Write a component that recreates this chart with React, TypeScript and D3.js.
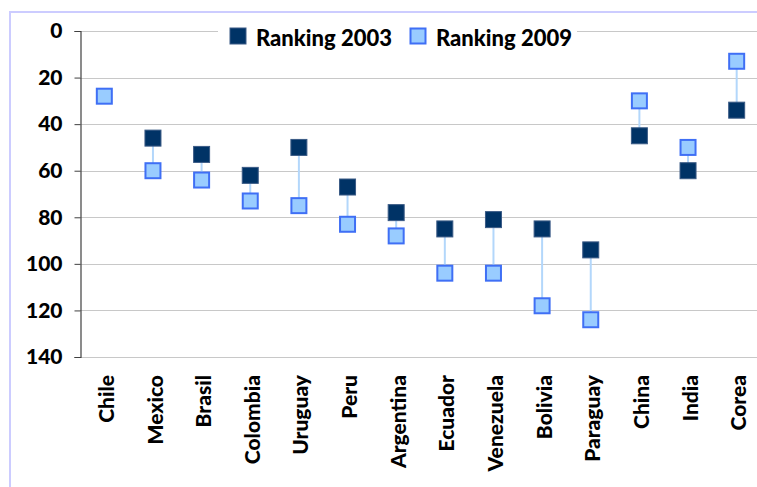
import { useEffect, useRef } from "react"
import * as d3 from "d3"

const countries = [
  "Chile", "Mexico", "Brasil", "Colombia", "Uruguay", "Peru", "Argentina",
  "Ecuador", "Venezuela", "Bolivia", "Paraguay", "China", "India", "Corea",
]
const rank2003: (number | null)[] = [null, 46, 53, 62, 50, 67, 78, 85, 81, 85, 94, 45, 60, 34]
const rank2009: (number | null)[] = [28, 60, 64, 73, 75, 83, 88, 104, 104, 118, 124, 30, 50, 13]
const yTicks = [0, 20, 40, 60, 80, 100, 120, 140]
const seriesNames = ["Ranking 2003", "Ranking 2009"]

const W = 757
const H = 487
const FONT = "Lato, 'Open Sans', sans-serif"

export default function App() {
  const svgRef = useRef<SVGSVGElement>(null)

  useEffect(() => {
    if (!svgRef.current) return
    const svg = d3.select(svgRef.current)
    svg.selectAll("*").remove()

    // outer frame (lavender border, runs off the picture)
    svg.append("rect")
      .attr("x", 10).attr("y", 12)
      .attr("width", 900).attr("height", 700)
      .attr("fill", "#fff")
      .attr("stroke", "#ccccff")
      .attr("stroke-width", 2)

    const x = d3.scaleBand<string>().domain(countries).range([80, 761]).padding(0)
    const y = d3.scaleLinear().domain([0, 140]).range([31, 357])

    // gridlines
    svg.append("g")
      .selectAll("line")
      .data(yTicks)
      .join("line")
      .attr("x1", 80).attr("x2", W)
      .attr("y1", (d) => Math.round(y(d)) + 0.5)
      .attr("y2", (d) => Math.round(y(d)) + 0.5)
      .attr("stroke", "#c8c8c8")
      .attr("stroke-width", 1)

    // y axis
    const yAxis = svg.append("g")
      .attr("transform", "translate(80.5,0)")
      .call(d3.axisLeft(y).tickValues(yTicks).tickSize(6).tickPadding(12))
    yAxis.select(".domain").attr("stroke", "#404040").attr("stroke-width", 1.2)
    yAxis.selectAll(".tick line").attr("stroke", "#404040")
    yAxis.selectAll("text")
      .attr("fill", "#000")
      .style("font-family", FONT)
      .style("font-weight", "900")
      .style("font-size", "21px")

    // x labels, rotated
    svg.append("g")
      .selectAll("text")
      .data(countries)
      .join("text")
      .attr("transform", (d) => `translate(${x(d)! + x.bandwidth() / 2 + 2},375) rotate(-90)`)
      .attr("text-anchor", "end")
      .attr("dy", "0.36em")
      .attr("fill", "#000")
      .style("font-family", FONT)
      .style("font-weight", "900")
      .style("font-size", "21px")
      .text((d) => d)

    const cx = (i: number) => x(countries[i])! + x.bandwidth() / 2
    const idx = countries.map((_, i) => i)
    const size = 16

    // connectors
    svg.append("g")
      .selectAll("line")
      .data(idx.filter((i) => rank2003[i] != null && rank2009[i] != null))
      .join("line")
      .attr("x1", cx).attr("x2", cx)
      .attr("y1", (i) => y(rank2003[i]!))
      .attr("y2", (i) => y(rank2009[i]!))
      .attr("stroke", "#b3d7fb")
      .attr("stroke-width", 2)

    // 2003 markers
    svg.append("g")
      .selectAll("rect")
      .data(idx.filter((i) => rank2003[i] != null))
      .join("rect")
      .attr("x", (i) => cx(i) - size / 2)
      .attr("y", (i) => y(rank2003[i]!) - size / 2)
      .attr("width", size).attr("height", size)
      .attr("fill", "#003366")
      .attr("stroke", "#3a5a85")
      .attr("stroke-width", 1)

    // 2009 markers
    svg.append("g")
      .selectAll("rect")
      .data(idx.filter((i) => rank2009[i] != null))
      .join("rect")
      .attr("x", (i) => cx(i) - size / 2 + 0.5)
      .attr("y", (i) => y(rank2009[i]!) - size / 2 + 0.5)
      .attr("width", size - 1).attr("height", size - 1)
      .attr("fill", "#99ccff")
      .attr("stroke", "#3f6ff5")
      .attr("stroke-width", 2)

    // legend
    const legend = svg.append("g")
    legend.append("rect")
      .attr("x", 218).attr("y", 20)
      .attr("width", 359).attr("height", 32)
      .attr("fill", "#fff")
    const items = legend.selectAll("g.item")
      .data(seriesNames)
      .join("g")
      .attr("class", "item")
      .attr("transform", (_, i) => `translate(${i === 0 ? 230 : 410},28)`)
    items.append("rect")
      .attr("x", (_, i) => (i === 0 ? 0 : 0.5))
      .attr("y", (_, i) => (i === 0 ? 0 : 0.5))
      .attr("width", (_, i) => (i === 0 ? size : size - 1))
      .attr("height", (_, i) => (i === 0 ? size : size - 1))
      .attr("fill", (_, i) => (i === 0 ? "#003366" : "#99ccff"))
      .attr("stroke", (_, i) => (i === 0 ? "#3a5a85" : "#3f6ff5"))
      .attr("stroke-width", (_, i) => (i === 0 ? 1 : 2))
    items.append("text")
      .attr("x", 26)
      .attr("y", 18)
      .attr("fill", "#000")
      .style("font-family", FONT)
      .style("font-weight", "900")
      .style("font-size", "22px")
      .text((d) => d)
  }, [])

  return (
    <svg
      ref={svgRef}
      width={W}
      height={H}
      style={{ position: "absolute", left: 0, top: 0, background: "#fff" }}
    />
  )
}
